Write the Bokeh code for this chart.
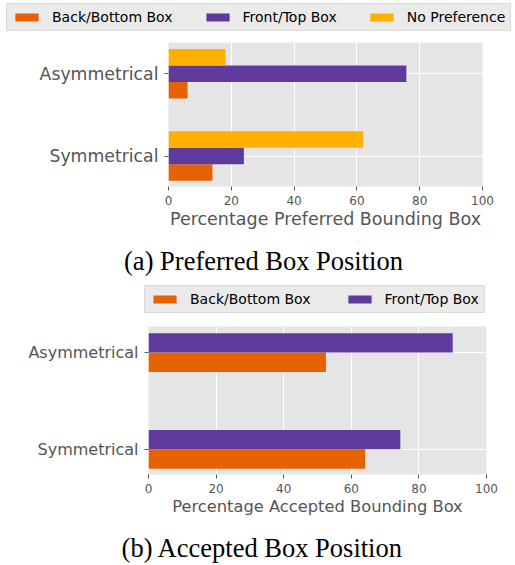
from bokeh.plotting import figure
from bokeh.models import Range1d, FixedTicker, Legend, LegendItem, Label
from bokeh.embed import file_html
from bokeh.resources import INLINE

# ---------------- data ----------------
categories = ["Symmetrical", "Asymmetrical"]

series_a = ["Back/Bottom Box", "Front/Top Box", "No Preference"]
pref_back = [14.0, 6.06]
pref_front = [24.0, 75.76]
pref_none = [62.0, 18.18]

series_b = ["Back/Bottom Box", "Front/Top Box"]
acc_back = [64.1, 52.5]
acc_front = [74.5, 90.0]

x_ticks = [0, 20, 40, 60, 80, 100]
xlabel_a = "Percentage Preferred Bounding Box"
xlabel_b = "Percentage Accepted Bounding Box"
caption_a = "(a) Preferred Box Position"
caption_b = "(b) Accepted Box Position"

COLORS = ["#E66100", "#5D3A9B", "#FFB000"]
BG = "#E5E5E5"
TXT = "#555555"
BAR_H = 0.2
W = 515


def helper(height):
    # a plain white strip (no axes) that carries a legend and/or a caption
    h = figure(frame_width=W, frame_height=height,
               min_border_left=0, min_border_right=0,
               min_border_top=0, min_border_bottom=0,
               x_axis_location=None, y_axis_location=None,
               x_range=Range1d(0, 100), y_range=Range1d(10, 11),
               output_backend="svg", toolbar_location=None)
    h.grid.visible = False
    h.outline_line_color = None
    h.background_fill_color = "white"
    return h


def add_legend(h, names, values, loc, spacing):
    # legend proxies: the same series, outside the strip's visible y range
    items = []
    for i, (name, vals) in enumerate(zip(names, values)):
        r = h.hbar(y=list(range(len(categories))), left=0, right=vals, height=BAR_H,
                   fill_color=COLORS[i], line_color=None)
        items.append(LegendItem(label=name, renderers=[r]))
    legend = Legend(items=items, location=loc, orientation="horizontal",
                    padding=5, spacing=spacing, margin=0,
                    glyph_width=29, glyph_height=10, label_standoff=11,
                    label_height=15,
                    label_text_font="DejaVu Sans", label_text_font_size="14px",
                    label_text_color="black",
                    background_fill_color=BG, background_fill_alpha=0.8,
                    border_line_color="#CCCCCC", border_line_width=1)
    h.add_layout(legend, "center")


def add_caption(h, text, x, y):
    h.add_layout(Label(x=x, y=y, x_units="screen", y_units="screen",
                       text=text, text_align="center", text_baseline="alphabetic",
                       text_font="Liberation Serif", text_font_size="26.5px",
                       text_color="black"))


def make_panel(series_values, xlabel, frame_w, frame_h,
               left, right, top, bottom, y_lo, y_hi, tick_fs, label_fs):
    p = figure(frame_width=frame_w, frame_height=frame_h,
               min_border_left=left, min_border_right=right,
               min_border_top=top, min_border_bottom=bottom,
               x_range=Range1d(0, 100), y_range=Range1d(y_lo, y_hi),
               output_backend="svg", toolbar_location=None)
    p.background_fill_color = BG
    p.outline_line_color = None

    n = len(series_values)
    for i, vals in enumerate(series_values):
        off = (i - (n - 1) / 2) * BAR_H
        ys = [k + off for k in range(len(categories))]
        p.hbar(y=ys, left=0, right=vals, height=BAR_H,
               fill_color=COLORS[i], line_color=None)

    p.xaxis.ticker = FixedTicker(ticks=x_ticks)
    p.yaxis.ticker = FixedTicker(ticks=list(range(len(categories))))
    p.yaxis.major_label_overrides = {k: c for k, c in enumerate(categories)}
    for ax in (p.xaxis[0], p.yaxis[0]):
        ax.axis_line_color = None
        ax.major_tick_line_color = TXT
        ax.major_tick_out = 4
        ax.major_tick_in = 0
        ax.minor_tick_line_color = None
        ax.major_label_text_color = TXT
        ax.major_label_text_font = "DejaVu Sans"
    p.xaxis.major_label_standoff = 5
    p.xaxis.major_label_text_font_size = "12px"
    p.yaxis.major_label_text_font_size = tick_fs
    p.yaxis.major_label_standoff = 6
    p.xaxis.axis_label = xlabel
    p.xaxis.axis_label_text_font = "DejaVu Sans"
    p.xaxis.axis_label_text_font_size = label_fs
    p.xaxis.axis_label_text_font_style = "normal"
    p.xaxis.axis_label_text_color = TXT
    p.xaxis.axis_label_standoff = 1

    p.xgrid.grid_line_color = "white"
    p.xgrid.grid_line_width = 1
    p.ygrid.grid_line_color = "white"
    p.ygrid.grid_line_width = 1
    p.ygrid.ticker = FixedTicker(ticks=list(range(len(categories))))
    return p


values_a = [pref_back, pref_front, pref_none]
values_b = [acc_back, acc_front]

# legend of panel (a): page y 0..36
h1 = helper(36)
add_legend(h1, series_a, values_a, (6, 5), 30)

# panel (a): page y 36..240
pa = make_panel(values_a, xlabel_a,
                314, 144, 168, 33, 6, 54, -0.37, 1.38, "17.3px", "17.5px")

# caption (a) + legend of panel (b): page y 240..320
h2 = helper(80)
add_caption(h2, caption_a, 263, 60)
add_legend(h2, series_b, values_b, (144, 7), 34)

# panel (b): page y 320..528
pb = make_panel(values_b, xlabel_b,
                338, 148, 148, 29, 6, 54, -0.26, 1.27, "16px", "16.3px")

# caption (b): page y 528..565
h3 = helper(37)
add_caption(h3, caption_b, 262, 18)

open("out.html", "w").write(file_html([h1, pa, h2, pb, h3], INLINE))
